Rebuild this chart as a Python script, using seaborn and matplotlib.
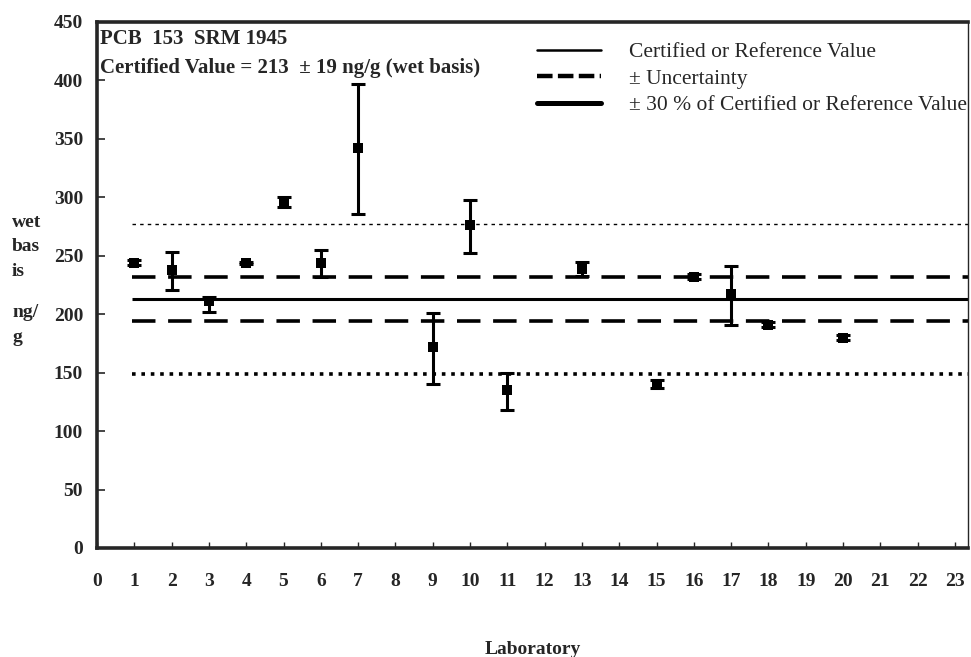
import matplotlib
matplotlib.use("Agg")
import matplotlib.pyplot as plt
from matplotlib.lines import Line2D
import numpy as np
import pandas as pd
import seaborn as sns

# Lab results, PCB 153 in SRM 1945
labs = [1, 2, 3, 4, 5, 6, 7, 9, 10, 11, 13, 15, 16, 17, 18, 20]
means = [244, 238, 211, 244, 296, 244, 342, 172, 276, 135, 239, 140, 232, 217, 191, 180]
lows = [242, 221, 202, 243, 292, 232, 286, 140, 252, 118, 233, 137, 230, 191, 189, 178]
highs = [246, 253, 215, 245, 300, 255, 397, 201, 298, 150, 245, 144, 234, 241, 193, 182]

certified = 213
uncertainty = 19
x_ticks = list(range(0, 24))
y_ticks = list(range(0, 451, 50))

df = pd.DataFrame({"lab": labs, "mean": means, "low": lows, "high": highs})

sns.set_style("ticks")
plt.rcParams["font.family"] = ["Liberation Serif", "DejaVu Serif"]
plt.rcParams["font.weight"] = "bold"

fig = plt.figure(figsize=(9.71, 6.57), dpi=100)
ax = fig.add_axes([97 / 971, 1 - 548 / 657, 871 / 971, 526 / 657])

# reference lines: certified value, +/- uncertainty, +/- 30 %
x0, x1 = 0.95, 23.35
ax.hlines(certified, x0, x1, color="black", lw=2.2)
ax.hlines([certified - uncertainty, certified + uncertainty], x0, x1,
          color="black", lw=2.6, linestyles=(0, (6.5, 3.5)))
ax.hlines(certified * 1.3, x0, x1, color="black", lw=1.0, linestyles=(0, (2.5, 3)))
ax.hlines(certified * 0.7, x0, x1, color="black", lw=2.6, linestyles=(0, (1, 1.6)))

# error bars and lab means
yerr = np.array([df["mean"] - df["low"], df["high"] - df["mean"]])
ax.errorbar(df["lab"], df["mean"], yerr=yerr, fmt="none", ecolor="black",
            elinewidth=2.2, capsize=5, capthick=2.2)
sns.scatterplot(data=df, x="lab", y="mean", ax=ax, marker="s", s=42,
                color="black", edgecolor="black", linewidth=0, zorder=5)

ax.set_xlim(0, 23.35)
ax.set_ylim(0, 450)
ax.set_xticks(x_ticks)
ax.set_yticks(y_ticks)
ax.tick_params(axis="x", direction="in", length=4, width=1, pad=18, labelsize=14)
ax.tick_params(axis="y", direction="in", length=6, width=1.2, pad=10, labelsize=14)
for lbl in ax.get_xticklabels() + ax.get_yticklabels():
    lbl.set_fontweight("bold")

for side in ["top", "left", "bottom"]:
    ax.spines[side].set_linewidth(2.6)
ax.spines["right"].set_linewidth(1.0)

ax.set_xlabel("Laboratory", fontsize=14, fontweight="bold", labelpad=37)
ax.set_ylabel("")
fig.text(12 / 971, 1 - 247 / 657, "wet\nbas\nis", fontsize=14,
         fontweight="bold", ha="left", va="center", linespacing=1.55)
fig.text(12 / 971, 1 - 325 / 657, "ng/\ng", fontsize=14,
         fontweight="bold", ha="left", va="center", linespacing=1.55)

ax.text(0.004, 0.968, "PCB  153  SRM 1945", transform=ax.transAxes,
        fontsize=15, fontweight="bold", va="center", ha="left")
ax.text(0.004, 0.912, "Certified Value = 213  \u00b1 19 ng/g (wet basis)",
        transform=ax.transAxes, fontsize=15, fontweight="bold", va="center", ha="left")

handles = [
    Line2D([], [], color="black", lw=1.8),
    Line2D([], [], color="black", lw=3.2, linestyle=(0, (3.5, 1.2))),
    Line2D([], [], color="black", lw=3.6),
]
names = ["Certified or Reference Value", "\u00b1 Uncertainty",
         "\u00b1 30 % of Certified or Reference Value"]
leg = ax.legend(handles, names, loc="upper left", bbox_to_anchor=(0.505, 0.962),
                frameon=False, borderpad=0, borderaxespad=0, handlelength=3.0,
                handletextpad=1.3, labelspacing=0.3,
                prop={"family": "Liberation Serif", "weight": "normal", "size": 15.5})

fig.savefig("out.png", dpi=100)
